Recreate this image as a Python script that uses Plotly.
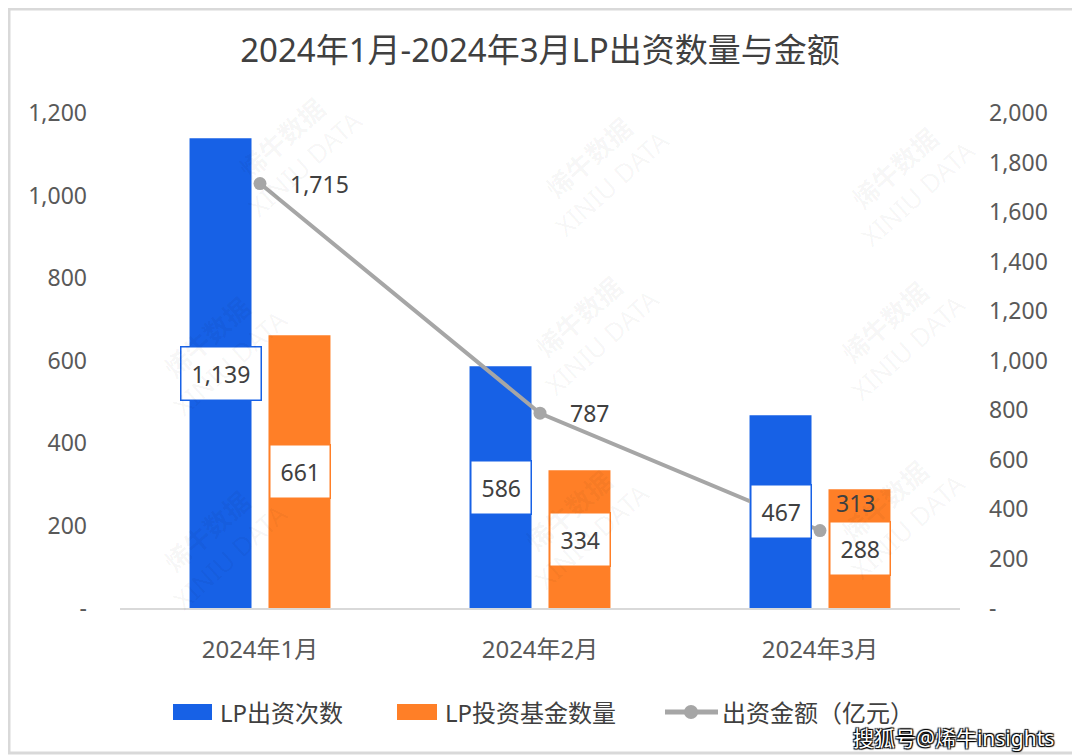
import plotly.graph_objects as go

# data
months = ["2024年1月", "2024年2月", "2024年3月"]
lp_count = [1139, 586, 467]          # LP出资次数
fund_count = [661, 334, 288]         # LP投资基金数量
amount = [1715, 787, 313]            # 出资金额（亿元）
left_ticks = [0, 200, 400, 600, 800, 1000, 1200]
right_ticks = [0, 200, 400, 600, 800, 1000, 1200, 1400, 1600, 1800, 2000]

BLUE = "#1761E6"
ORANGE = "#FF7F27"
GREY = "#A6A6A6"
TXT = "#404040"
FONT = "Noto Sans, Noto Sans CJK SC"

# page has an 8px body margin, so the figure is a bit smaller and all
# window-pixel positions below are shifted by OFF
OFF = 8
W, H = 1080 - OFF, 756 - OFF
# plot area in window pixels
X0, X1, Y0, Y1 = 120, 960, 113, 608
L, R, T, B = X0 - OFF, W - (X1 - OFF), Y0 - OFF, H - (Y1 - OFF)
PW, PH = X1 - X0, Y1 - Y0


def px(x):
    return (x - X0) / PW


def py(y):
    return (Y1 - y) / PH


def fmt(v):
    return "-" if v == 0 else f"{v:,}"


fig = go.Figure()
fig.add_trace(go.Bar(x=months, y=lp_count, name="LP出资次数",
                     marker=dict(color=BLUE, line=dict(width=0))))
fig.add_trace(go.Bar(x=months, y=fund_count, name="LP投资基金数量",
                     marker=dict(color=ORANGE, line=dict(width=0))))
fig.add_trace(go.Scatter(x=months, y=amount, name="出资金额（亿元）", yaxis="y2",
                         mode="lines+markers",
                         line=dict(color=GREY, width=4),
                         marker=dict(color=GREY, size=13)))

annotations = []
# boxed labels in the middle of each bar
for vals, col, off in [(lp_count, BLUE, -0.5), (fund_count, ORANGE, 0.5)]:
    for i, v in enumerate(vals):
        annotations.append(dict(
            x=i, y=v / 2, xref="x", yref="y", text=f"{v:,}", showarrow=False,
            xshift=off * 79, font=dict(size=23, color=TXT, family=FONT),
            bgcolor="white", bordercolor=col, borderwidth=1.5, borderpad=10))

# labels of the line
shifts = [(28, 0), (28, 0), (14, 28)]
for i, v in enumerate(amount):
    annotations.append(dict(
        x=i, y=v, xref="x", yref="y2", text=f"{v:,}", showarrow=False,
        xanchor="left", xshift=shifts[i][0], yshift=shifts[i][1],
        font=dict(size=23, color=TXT, family=FONT)))

# watermarks
for wx, wy in [(215, 75), (600, 95), (985, 105),
               (140, 350), (590, 330), (975, 335),
               (140, 620), (580, 600), (975, 590)]:
    annotations.append(dict(
        x=px(wx), y=py(wy), xref="paper", yref="paper", showarrow=False,
        text="<b>烯牛数据</b><br>XINIU DATA", textangle=-42,
        font=dict(size=26, color="rgba(0,0,0,0.045)", family=FONT)))

# manual legend
shapes = []
leg_y = 712
shapes.append(dict(type="rect", xref="paper", yref="paper",
                   x0=px(173), x1=px(212), y0=py(720), y1=py(704),
                   fillcolor=BLUE, line=dict(width=0)))
shapes.append(dict(type="rect", xref="paper", yref="paper",
                   x0=px(397), x1=px(437), y0=py(720), y1=py(704),
                   fillcolor=ORANGE, line=dict(width=0)))
shapes.append(dict(type="line", xref="paper", yref="paper",
                   x0=px(665), x1=px(718), y0=py(leg_y), y1=py(leg_y),
                   line=dict(color=GREY, width=5)))
shapes.append(dict(type="circle", xref="paper", yref="paper",
                   x0=px(684), x1=px(698), y0=py(719), y1=py(705),
                   fillcolor=GREY, line=dict(width=0)))
for lx, name in [(218, "LP出资次数"), (443, "LP投资基金数量"), (720, "出资金额（亿元）")]:
    annotations.append(dict(
        x=px(lx), y=py(leg_y), xref="paper", yref="paper", showarrow=False,
        xanchor="left", yanchor="middle", text=name,
        font=dict(size=24, color=TXT, family=FONT)))

# source mark bottom right
annotations.append(dict(
    x=px(1056), y=py(738), xref="paper", yref="paper", showarrow=False,
    xanchor="right", yanchor="middle", text="搜狐号@烯牛insights",
    font=dict(size=21, color="white", family=FONT,
              shadow="1px 1px 1px #000, -1px -1px 1px #000, 1px -1px 1px #000, -1px 1px 1px #000")))

# image frame
shapes.append(dict(type="rect", xref="paper", yref="paper",
                   x0=px(9), x1=px(1078), y0=py(753), y1=py(9),
                   line=dict(color="#D9D9D9", width=3), fillcolor="rgba(0,0,0,0)",
                   layer="below"))

fig.update_layout(
    width=W, height=H,
    margin=dict(l=L, r=R, t=T, b=B),
    paper_bgcolor="white", plot_bgcolor="white",
    font=dict(family=FONT, color="#595959"),
    title=dict(text="2024年1月-2024年3月LP出资数量与金额", x=0.5 * (1080 - 2 * OFF) / W,
               xanchor="center", y=1 - (50 - OFF) / H, yanchor="middle",
               font=dict(size=33, color=TXT, family=FONT)),
    barmode="group", bargap=0.436, bargroupgap=0.215,
    showlegend=False,
    xaxis=dict(showgrid=False, showline=True, linecolor="#D9D9D9", linewidth=1.5,
               ticks="", tickfont=dict(size=24, color="#595959"),
               ticklabelstandoff=19, range=[-0.5, 2.5]),
    yaxis=dict(range=[0, 1200], tickvals=left_ticks, ticktext=[fmt(v) for v in left_ticks],
               showgrid=False, zeroline=False, ticks="",
               tickfont=dict(size=23, color="#595959"), ticklabelstandoff=32),
    yaxis2=dict(range=[0, 2000], overlaying="y", side="right",
                tickvals=right_ticks, ticktext=[fmt(v) for v in right_ticks],
                showgrid=False, zeroline=False, ticks="",
                tickfont=dict(size=23, color="#595959"), ticklabelstandoff=28),
    annotations=annotations,
    shapes=shapes,
)

fig.write_html("out.html")
